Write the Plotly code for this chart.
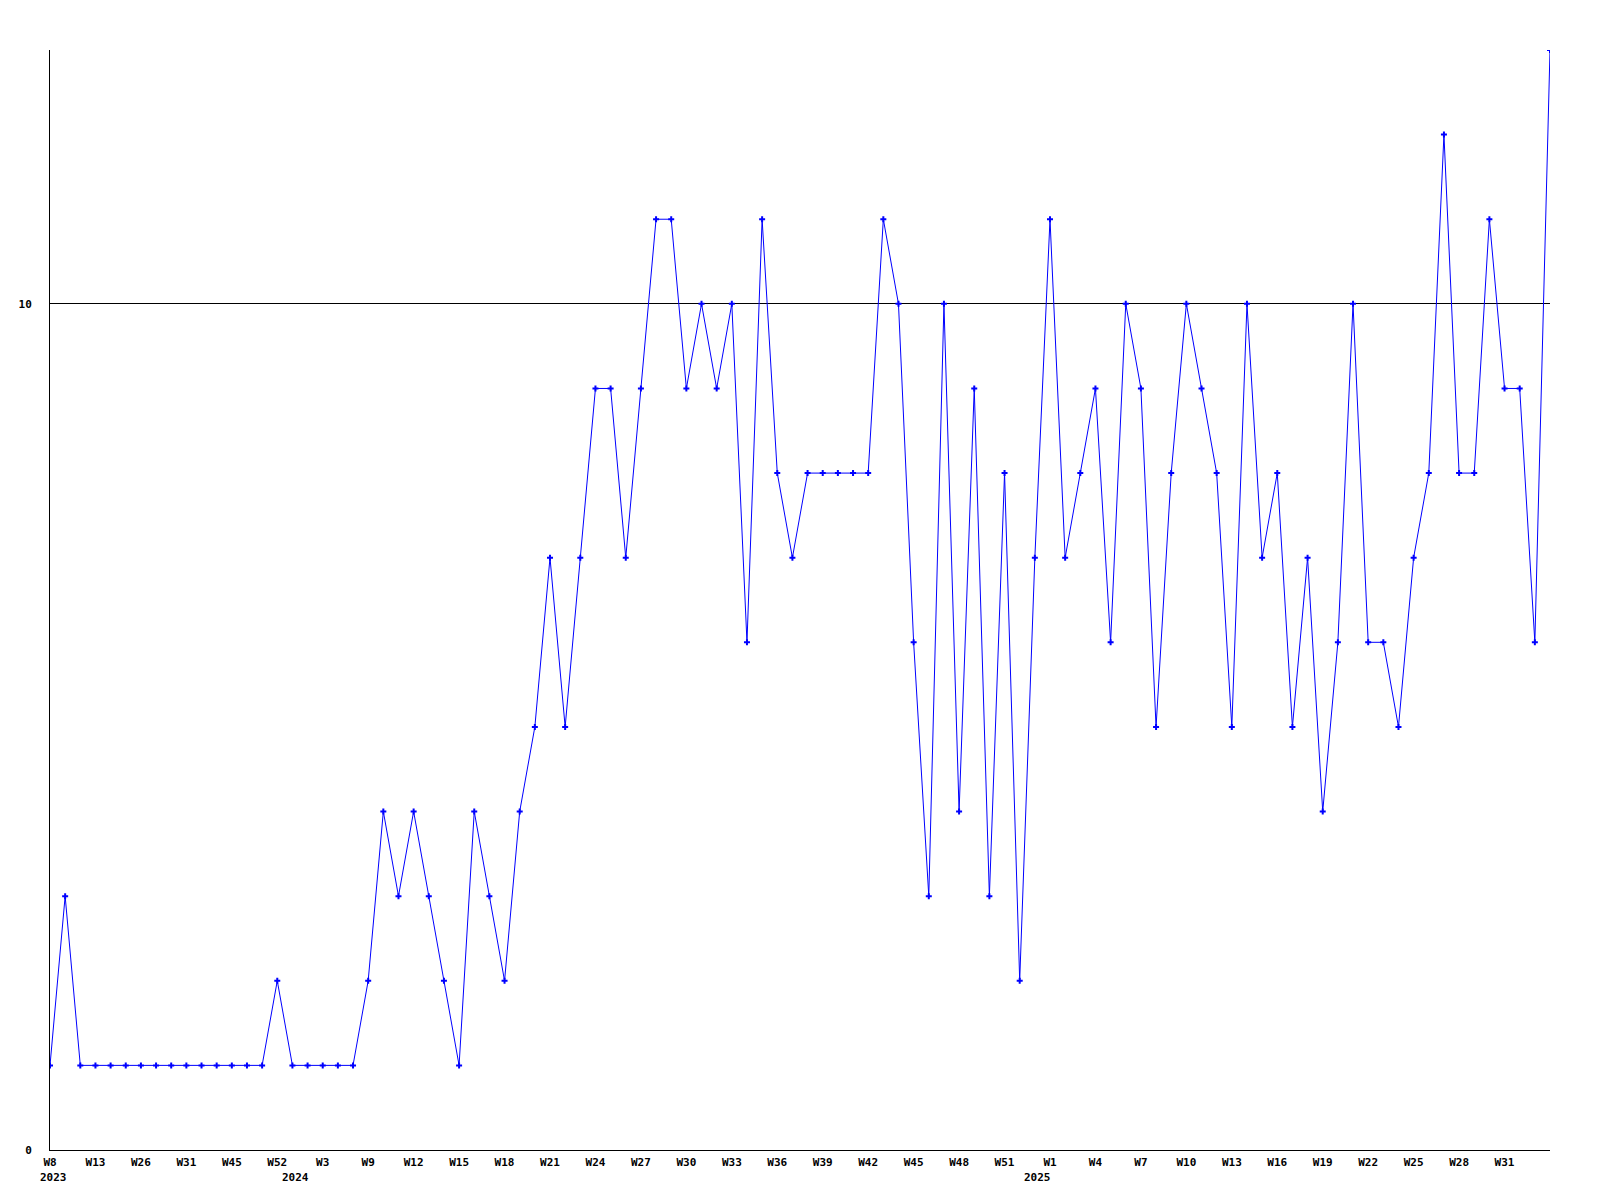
import plotly.graph_objects as go

# weekly values (100 points, W8 2023 .. W34 2025)
values = [1, 3, 1, 1, 1, 1, 1, 1, 1, 1, 1, 1, 1, 1, 1, 2, 1, 1, 1, 1,
          1, 2, 4, 3, 4, 3, 2, 1, 4, 3, 2, 4, 5, 7, 5, 7, 9, 9, 7, 9,
          11, 11, 9, 10, 9, 10, 6, 11, 8, 7, 8, 8, 8, 8, 8, 11, 10, 6, 3, 10,
          4, 9, 3, 8, 2, 7, 11, 7, 8, 9, 6, 10, 9, 5, 8, 10, 9, 8, 5, 10,
          7, 8, 5, 7, 4, 6, 10, 6, 6, 5, 7, 8, 12, 8, 8, 11, 9, 9, 6, 13]

tick_labels = ["W8", "W13", "W26", "W31", "W45", "W52", "W3", "W9", "W12", "W15",
               "W18", "W21", "W24", "W27", "W30", "W33", "W36", "W39", "W42", "W45",
               "W48", "W51", "W1", "W4", "W7", "W10", "W13", "W16", "W19", "W22",
               "W25", "W28", "W31"]
tick_every = 3

year_labels = ["2023", "2024", "2025"]
year_positions = [0.2, 16.2, 65.2]

y_ticks = [0, 10]

FONT = "DejaVu Sans Mono"
x = list(range(len(values)))
tickvals = [i * tick_every for i in range(len(tick_labels))]

fig = go.Figure()
fig.add_trace(go.Scatter(
    x=x, y=values, mode="lines+markers",
    line=dict(color="#0000FF", width=1),
    marker=dict(symbol="cross", size=5, color="#0000FF",
                line=dict(width=0)),
    showlegend=False,
))

for lab, pos in zip(year_labels, year_positions):
    fig.add_annotation(
        x=pos, y=0, xref="x", yref="paper", yanchor="top", xanchor="center",
        yshift=-19, text="<b>" + lab + "</b>", showarrow=False,
        font=dict(family=FONT, size=11, color="black"),
    )

fig.update_layout(
    width=1600, height=1200,
    margin=dict(l=42, r=58, t=42, b=58),
    paper_bgcolor="white", plot_bgcolor="white",
    xaxis=dict(
        range=[0, len(values) - 1],
        tickvals=tickvals,
        ticktext=["<b>" + t + "</b>" for t in tick_labels],
        showgrid=False, zeroline=False,
        showline=True, linecolor="black", linewidth=1,
        ticks="", ticklabelstandoff=2,
        tickfont=dict(family=FONT, size=11, color="black"),
    ),
    yaxis=dict(
        range=[0, 13],
        tickvals=y_ticks,
        ticktext=["<b>" + str(v) + "</b>" for v in y_ticks],
        showgrid=True, gridcolor="black", gridwidth=1,
        zeroline=False,
        showline=True, linecolor="black", linewidth=1,
        ticks="", ticklabelstandoff=15,
        tickfont=dict(family=FONT, size=11, color="black"),
    ),
)

fig.write_html("out.html")
